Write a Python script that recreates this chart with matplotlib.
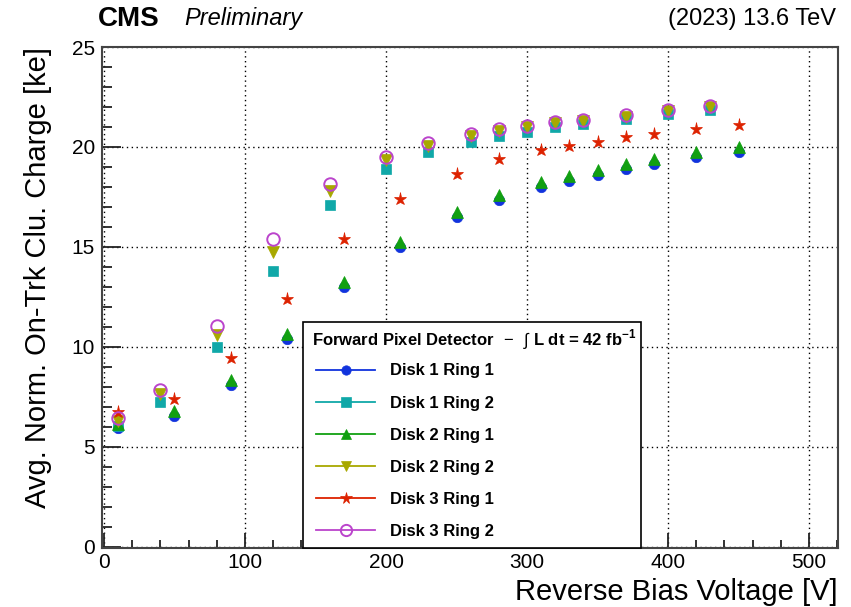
import matplotlib
matplotlib.use("Agg")
import matplotlib.pyplot as plt
from matplotlib.lines import Line2D
from matplotlib.patches import Rectangle
from matplotlib.ticker import MultipleLocator

plt.rcParams['font.family'] = ['Liberation Sans', 'DejaVu Sans']
plt.rcParams['mathtext.fontset'] = 'custom'
plt.rcParams['mathtext.rm'] = 'Liberation Sans'
plt.rcParams['mathtext.bf'] = 'Liberation Sans:bold'

# ---- data ----
x_ring1 = [10, 50, 90, 130, 170, 210, 250, 280, 310, 330, 350, 370, 390, 420, 450]
x_ring2 = [10, 40, 80, 120, 160, 200, 230, 260, 280, 300, 320, 340, 370, 400, 430]

d1r1 = [5.95, 6.55, 8.08, 10.4, 12.97, 15.0, 16.5, 17.35, 18.0, 18.3, 18.6, 18.9, 19.15, 19.5, 19.75]
d1r2 = [6.05, 7.22, 9.97, 13.8, 17.1, 18.9, 19.75, 20.25, 20.55, 20.75, 21.0, 21.15, 21.4, 21.65, 21.85]
d2r1 = [6.15, 6.8, 8.35, 10.65, 13.25, 15.25, 16.75, 17.6, 18.25, 18.55, 18.85, 19.15, 19.4, 19.75, 20.0]
d2r2 = [6.3, 7.63, 10.6, 14.75, 17.8, 19.35, 20.05, 20.55, 20.8, 21.0, 21.2, 21.3, 21.5, 21.8, 22.0]
d3r1 = [6.75, 7.37, 9.45, 12.4, 15.4, 17.4, 18.65, 19.4, 19.85, 20.05, 20.25, 20.5, 20.65, 20.9, 21.1]
d3r2 = [6.42, 7.83, 11.03, 15.4, 18.15, 19.5, 20.2, 20.65, 20.9, 21.05, 21.25, 21.35, 21.6, 21.85, 22.05]

labels = ["Disk 1 Ring 1", "Disk 1 Ring 2", "Disk 2 Ring 1",
          "Disk 2 Ring 2", "Disk 3 Ring 1", "Disk 3 Ring 2"]
legend_header = r"Forward Pixel Detector $\,-\,$ $\int$ L dt = 42 fb$^{\mathbf{-1}}$"
series = [(x_ring1, d1r1), (x_ring2, d1r2), (x_ring1, d2r1),
          (x_ring2, d2r2), (x_ring1, d3r1), (x_ring2, d3r2)]
colors = ['#1133dd', '#10a8a8', '#11a011', '#a8a800', '#dd2200', '#bb44cc']
markers = ['o', 's', '^', 'v', '*', 'o']
msizes = [7.5, 7.5, 8, 8, 9.5, 9]
filled = [True, True, True, True, True, False]

W, H = 851, 607
fig = plt.figure(figsize=(W/100, H/100), dpi=100)
ax = fig.add_axes([102/W, 1-547.5/H, 736/W, 501/H])

handles = []
for (xs, ys), lab, c, m, ms, f in zip(series, labels, colors, markers, msizes, filled):
    ax.plot(xs, ys, linestyle='none', marker=m, markersize=ms,
            markerfacecolor=c if f else 'none', markeredgecolor=c,
            markeredgewidth=1.4 if not f else 0.5, zorder=3)
    handles.append(Line2D([], [], color=c, lw=1.3, marker=m,
                          markersize=ms*0.9,
                          markerfacecolor=c if f else 'none',
                          markeredgecolor=c, markeredgewidth=1.4 if not f else 0.5))

ax.set_xlim(-1.4, 520.5)
ax.set_ylim(-0.05, 25.03)
ax.xaxis.set_major_locator(MultipleLocator(100))
ax.xaxis.set_minor_locator(MultipleLocator(20))
ax.yaxis.set_major_locator(MultipleLocator(5))
ax.yaxis.set_minor_locator(MultipleLocator(1))

ax.grid(True, which='major', color='black', linestyle=(0, (1, 2.5)), linewidth=1.0)
ax.set_axisbelow(True)

ax.tick_params(axis='both', which='both', direction='in', top=False, right=False,
               labelsize=15, color='#222222', width=1.3)
ax.tick_params(axis='y', which='major', length=14, pad=5)
ax.tick_params(axis='y', which='minor', length=7)
ax.tick_params(axis='x', which='major', length=11, pad=4)
ax.tick_params(axis='x', which='minor', length=5.5)

for s in ax.spines.values():
    s.set_color('#444444')
    s.set_linewidth(1.5)

ax.set_xlabel("Reverse Bias Voltage [V]", fontsize=21, loc='right', labelpad=4)
ax.set_ylabel("Avg. Norm. On-Trk Clu. Charge [ke]", fontsize=21, loc='top', labelpad=14)

fig.text(98/W, 1-19/H, "CMS", fontsize=20, fontweight='bold', va='center', ha='left')
fig.text(184/W, 1-19/H, "Preliminary", fontsize=17, fontstyle='italic', va='center', ha='left')
fig.text(836/W, 1-19/H, "(2023) 13.6 TeV", fontsize=17, va='center', ha='right')

# legend box (frame drawn as a patch, header as text)
box = Rectangle((303/W, 1-547.5/H), (641-303)/W, (547.5-322)/H, transform=fig.transFigure,
                facecolor='white', edgecolor='black', linewidth=1.2, zorder=4)
fig.patches.append(box)
fig.text(312/W, 1-340/H, legend_header, fontsize=12, fontweight='bold',
         va='center', ha='left', zorder=6)

leg = fig.legend(handles, labels,
                 loc='upper left', bbox_to_anchor=(316/W, 1-363.5/H),
                 prop={'weight': 'bold', 'size': 12},
                 frameon=False, handlelength=3.55, handletextpad=0.9,
                 labelspacing=1.03, borderpad=0.0, borderaxespad=0.0)
leg.set_zorder(6)

fig.savefig("out.png", dpi=100)
